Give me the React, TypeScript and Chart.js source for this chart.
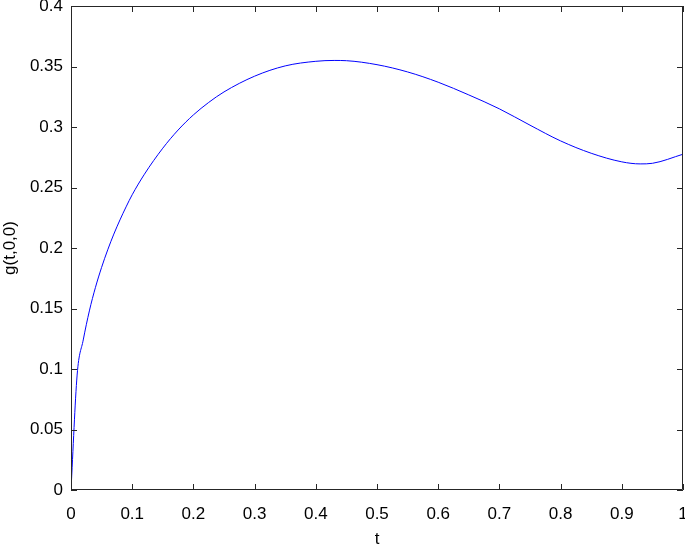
import React, { useEffect, useRef } from "react";
import { Chart, registerables } from "chart.js";

Chart.register(...registerables);

const tValues = [0, 0.01, 0.02, 0.03, 0.04, 0.05, 0.06, 0.07, 0.08, 0.09, 0.1, 0.12, 0.15, 0.175, 0.2, 0.225, 0.25, 0.3, 0.35, 0.4, 0.43, 0.45, 0.5, 0.55, 0.6, 0.65, 0.7, 0.75, 0.8, 0.85, 0.9, 0.93, 0.95, 1.0];
const gValues = [0, 0.095, 0.124, 0.148, 0.1675, 0.184, 0.1985, 0.2115, 0.2232, 0.234, 0.244, 0.261, 0.2825, 0.2975, 0.31, 0.3203, 0.329, 0.342, 0.3505, 0.3543, 0.355, 0.3548, 0.3515, 0.3455, 0.337, 0.3265, 0.315, 0.3015, 0.2885, 0.2783, 0.2712, 0.2695, 0.27, 0.2775];
const xTicks = [0, 0.1, 0.2, 0.3, 0.4, 0.5, 0.6, 0.7, 0.8, 0.9, 1];
const yTicks = [0, 0.05, 0.1, 0.15, 0.2, 0.25, 0.3, 0.35, 0.4];

const FONT = "'Liberation Sans', Arial, Helvetica, sans-serif";

const boxPlugin = {
  id: "matlabBox",
  afterDraw(chart: any) {
    const { ctx, chartArea } = chart;
    const { left, right, top, bottom } = chartArea;
    const xs = chart.scales.x;
    const ys = chart.scales.y;
    const tl = 6;
    ctx.save();
    ctx.strokeStyle = "#262626";
    ctx.lineWidth = 1;
    ctx.beginPath();
    ctx.rect(left + 0.5, top + 0.5, right - left - 1, bottom - top - 1);
    xTicks.forEach((v) => {
      const px = Math.round(xs.getPixelForValue(v)) + 0.5;
      ctx.moveTo(px, bottom);
      ctx.lineTo(px, bottom - tl);
      ctx.moveTo(px, top);
      ctx.lineTo(px, top + tl);
    });
    yTicks.forEach((v) => {
      const py = Math.round(ys.getPixelForValue(v)) + 0.5;
      ctx.moveTo(left, py);
      ctx.lineTo(left + tl, py);
      ctx.moveTo(right, py);
      ctx.lineTo(right - tl, py);
    });
    ctx.stroke();
    ctx.restore();
  },
};

export default function App() {
  const ref = useRef<HTMLCanvasElement>(null);
  useEffect(() => {
    const chart = new Chart(ref.current!, {
      type: "line",
      data: {
        datasets: [
          {
            data: tValues.map((t, i) => ({ x: t, y: gValues[i] })),
            borderColor: "#0000ff",
            borderWidth: 1,
            pointRadius: 0,
            cubicInterpolationMode: "monotone",
            fill: false,
          },
        ],
      },
      options: {
        animation: false,
        responsive: false,
        layout: { padding: { top: 6, right: 2, left: 0, bottom: 0 } },
        plugins: { legend: { display: false }, tooltip: { enabled: false } },
        scales: {
          x: {
            type: "linear",
            min: 0,
            max: 1,
            afterFit: (s: any) => {
              s.height = 57;
              s.paddingLeft = 0;
              s.paddingRight = 0;
            },
            afterBuildTicks: (s: any) => { s.ticks = xTicks.map((v) => ({ value: v })); },
            grid: { display: false, drawTicks: false },
            border: { display: false },
            ticks: {
              color: "#000",
              padding: 14,
              maxRotation: 0,
              autoSkip: false,
              font: { family: FONT, size: 17 },
              callback: (v: any) => String(v),
            },
            title: {
              display: true,
              text: "t",
              color: "#000",
              font: { family: FONT, size: 17 },
              padding: { top: 0, bottom: -3 },
            },
          },
          y: {
            type: "linear",
            min: 0,
            max: 0.4,
            afterFit: (s: any) => {
              s.width = 71;
              s.paddingTop = 0;
              s.paddingBottom = 0;
            },
            afterBuildTicks: (s: any) => { s.ticks = yTicks.map((v) => ({ value: v })); },
            grid: { display: false, drawTicks: false },
            border: { display: false },
            ticks: {
              color: "#000",
              padding: 8,
              autoSkip: false,
              font: { family: FONT, size: 17 },
              callback: (v: any) => String(v),
            },
            title: {
              display: true,
              text: "g(t,0,0)",
              color: "#000",
              font: { family: FONT, size: 17 },
              padding: { top: 0, bottom: 0 },
            },
          },
        },
      },
      plugins: [boxPlugin],
    });
    return () => chart.destroy();
  }, []);
  return (
    <div style={{ position: "fixed", left: 0, top: 0, width: 685, height: 547, background: "#fff" }}>
      <canvas ref={ref} width={685} height={547} style={{ display: "block" }} />
    </div>
  );
}
